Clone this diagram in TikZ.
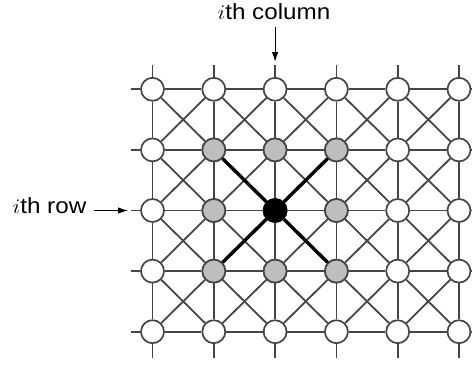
\documentclass[tikz,border=0pt]{standalone}
\usepackage{fontspec}
\setmainfont{Liberation Sans}
\usetikzlibrary{arrows.meta}
\definecolor{linegray}{HTML}{454545}
\definecolor{nodegray}{HTML}{BEBEBE}
\begin{document}
\begin{tikzpicture}[x=1pt,y=-1pt,
  gridline/.style={draw=linegray, line width=1.8pt},
  heavyline/.style={draw=black, line width=3.4pt},
  vertex/.style={circle, draw=linegray, line width=1.7pt, fill=white, minimum size=23pt, inner sep=0pt},
  shaded/.style={vertex, fill=nodegray},
  centre/.style={vertex, draw=black, fill=black},
  pointer/.style={draw=black, line width=1.1pt, -{Latex[length=10pt,width=6.5pt]}},
  label/.style={font=\fontsize{22}{26}\selectfont, anchor=base, inner sep=0pt}
]
\useasboundingbox (0,0) rectangle (472,365);
% nodes
\foreach \i in {0,...,5}{
  \foreach \j in {0,...,4}{
    \node[vertex] (n\i\j) at ({152.5+61.3*\i},{89.3+60.6*\j}) {};
  }
}
% grid lines
\foreach \i in {0,...,4}{
  \pgfmathtruncatemacro{\k}{\i+1}
  \foreach \j in {0,...,4}{
    \draw[gridline] (n\i\j) -- (n\k\j);
  }
}
\foreach \i in {0,...,5}{
  \foreach \j in {0,...,3}{
    \pgfmathtruncatemacro{\l}{\j+1}
    \draw[gridline] (n\i\j) -- (n\i\l);
  }
}
% diagonals
\foreach \i in {0,...,4}{
  \pgfmathtruncatemacro{\k}{\i+1}
  \foreach \j in {0,...,3}{
    \pgfmathtruncatemacro{\l}{\j+1}
    \draw[gridline] (n\i\j) -- (n\k\l);
    \draw[gridline] (n\k\j) -- (n\i\l);
  }
}
% stubs
\foreach \i in {0,...,5}{
  \coordinate (t\i) at ({152.5+61.3*\i},65);
  \coordinate (b\i) at ({152.5+61.3*\i},358);
  \draw[gridline] (n\i0) -- (t\i);
  \draw[gridline] (n\i4) -- (b\i);
}
\foreach \j in {0,...,4}{
  \coordinate (l\j) at (131,{89.3+60.6*\j});
  \coordinate (r\j) at (474,{89.3+60.6*\j});
  \draw[gridline] (n0\j) -- (l\j);
  \draw[gridline] (n5\j) -- (r\j);
}
% neighbourhood
\foreach \p in {11,21,31,12,32,13,23,33}{
  \node[shaded] at (n\p) {};
}
\node[centre] (c) at (n22) {};
\draw[heavyline] (c) -- (n11);
\draw[heavyline] (c) -- (n31);
\draw[heavyline] (c) -- (n13);
\draw[heavyline] (c) -- (n33);
% labels and pointers
\node[label] (collab) at (274,19) {\scalebox{1.1}[1]{$i$th column}};
\node[label] (rowlab) at (49.5,213) {\scalebox{1.1}[1]{$i$th row}};
\coordinate (colstart) at (275.1,27);
\coordinate (coltip) at (275.1,62);
\coordinate (rowstart) at (94,210.5);
\coordinate (rowtip) at (128,210.5);
\draw[pointer] (colstart) -- (coltip);
\draw[pointer] (rowstart) -- (rowtip);
\end{tikzpicture}
\end{document}
